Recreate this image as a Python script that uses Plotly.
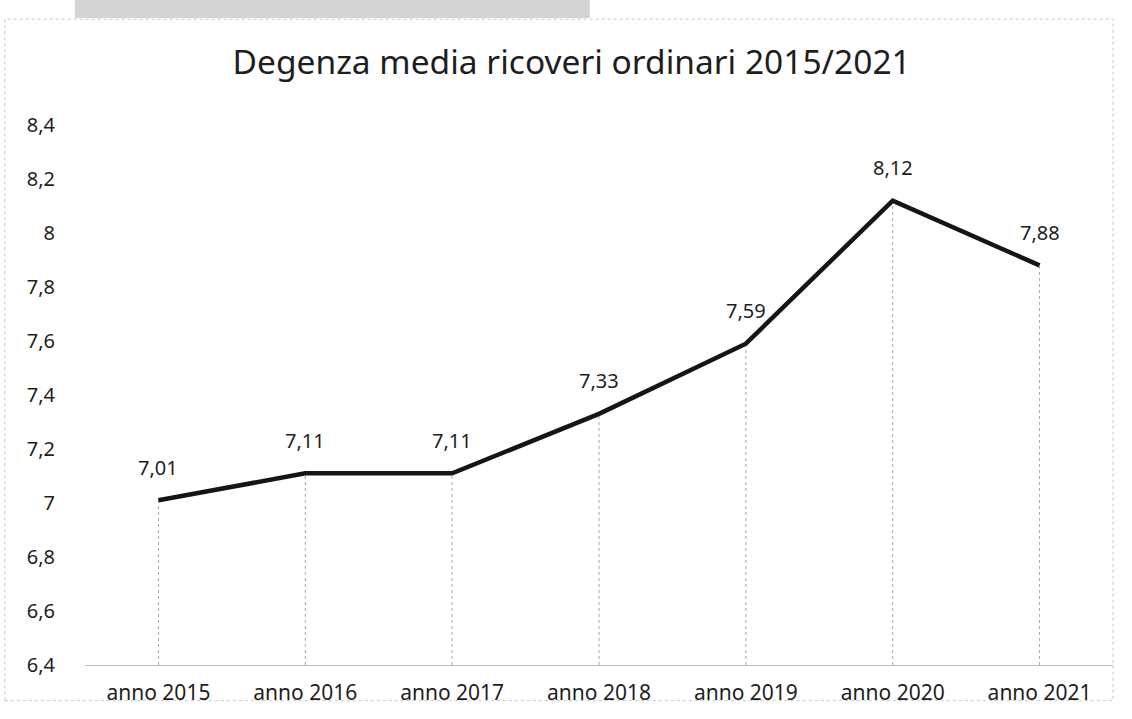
import plotly.graph_objects as go

categories = ["anno 2015", "anno 2016", "anno 2017", "anno 2018", "anno 2019", "anno 2020", "anno 2021"]
values = [7.01, 7.11, 7.11, 7.33, 7.59, 8.12, 7.88]
value_labels = ["7,01", "7,11", "7,11", "7,33", "7,59", "8,12", "7,88"]
y_ticks = [6.4, 6.6, 6.8, 7.0, 7.2, 7.4, 7.6, 7.8, 8.0, 8.2, 8.4]
y_tick_labels = ["6,4", "6,6", "6,8", "7", "7,2", "7,4", "7,6", "7,8", "8", "8,2", "8,4"]
title_text = "Degenza media ricoveri ordinari 2015/2021"

Y_MIN, Y_MAX = 6.4, 8.4
FONT = "Noto Sans"
TXT = "#1e1e1e"

fig = go.Figure()

# drop lines from each point to the baseline
dx, dy = [], []
for c, v in zip(categories, values):
    dx += [c, c, None]
    dy += [Y_MIN, v, None]
fig.add_trace(go.Scatter(x=dx, y=dy, mode="lines",
                         line=dict(color="#a6a6a6", width=1, dash="dot"),
                         hoverinfo="skip", showlegend=False))

fig.add_trace(go.Scatter(x=categories, y=values, mode="lines",
                         line=dict(color="#151515", width=4.5),
                         showlegend=False))

for c, v, t in zip(categories, values, value_labels):
    fig.add_annotation(x=c, y=v, text=t, showarrow=False, yshift=33,
                       font=dict(family=FONT, size=20, color=TXT))

fig.update_layout(
    width=1132, height=719,
    margin=dict(l=85, r=19, t=125, b=54),
    paper_bgcolor="white", plot_bgcolor="white",
    title=dict(text=title_text, x=0.505, xanchor="center", y=0.914, yanchor="middle",
               font=dict(family=FONT, size=33.5, color=TXT)),
    font=dict(family=FONT, color=TXT),
    xaxis=dict(type="category", categoryorder="array", categoryarray=categories,
               range=[-0.5, len(categories) - 0.5],
               showgrid=False, zeroline=False, showline=True, linecolor="#bdbdbd", linewidth=1,
               ticks="", tickfont=dict(family=FONT, size=21, color=TXT), ticklabelstandoff=9),
    yaxis=dict(range=[Y_MIN, Y_MAX], tickvals=y_ticks, ticktext=y_tick_labels,
               showgrid=False, zeroline=False, showline=False, ticks="",
               tickfont=dict(family=FONT, size=20, color=TXT), ticklabelstandoff=29),
    shapes=[
        dict(type="rect", xref="paper", yref="paper", x0=-0.078, x1=1.0, y0=-0.066, y1=1.196,
             line=dict(color="#c8c8c8", width=1, dash="dot"), layer="below"),
        dict(type="rect", xref="paper", yref="paper", x0=-0.0097, x1=0.491, y0=1.198, y1=1.232,
             line=dict(width=0), fillcolor="#d4d4d4", layer="below"),
    ],
)

fig.write_html("out.html", config={"displayModeBar": False},
               post_script="document.body.style.margin='0';document.body.style.overflow='hidden';")
